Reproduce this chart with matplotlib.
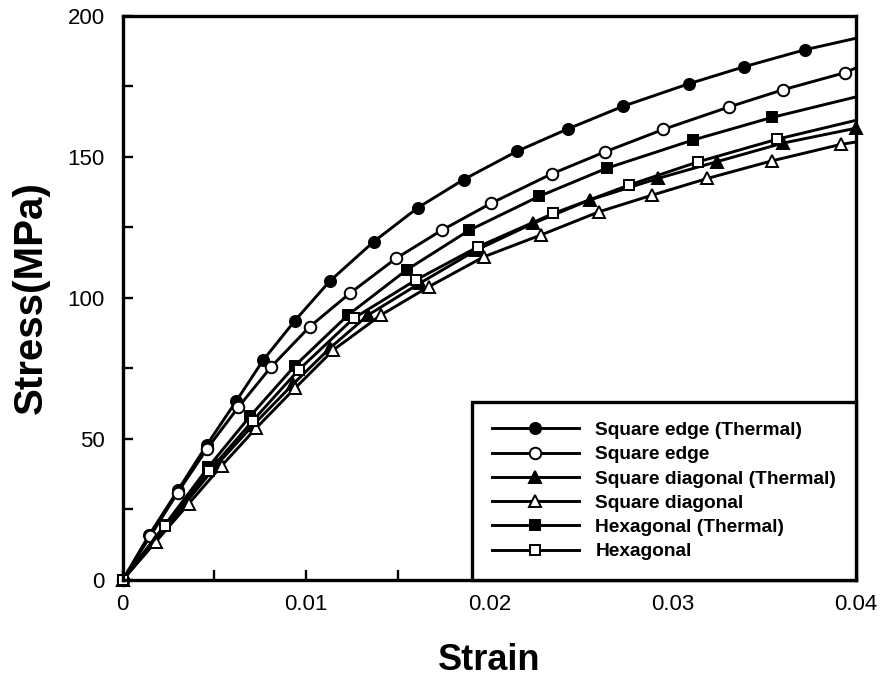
import numpy as np
import matplotlib
matplotlib.use('Agg')
import matplotlib.pyplot as plt
from matplotlib.ticker import MultipleLocator

plt.rcParams['font.family'] = ['Liberation Sans', 'DejaVu Sans']

# Square edge (Thermal) - filled circles
se_th_x = [0, 0.00145, 0.00303, 0.0046, 0.0062, 0.00767, 0.0094, 0.0113, 0.0137, 0.0161,
           0.0186, 0.0215, 0.0243, 0.0273, 0.0309, 0.0339, 0.0372, 0.04]
se_th_y = [0, 16, 32, 48, 63.5, 78, 92, 106, 120, 132, 142, 152, 160, 168, 176, 182, 188, 192.1]

# Square edge - open circles
se_x = [0, 0.0015, 0.003, 0.0046, 0.0063, 0.0081, 0.0102, 0.0124, 0.0149, 0.0174, 0.0201,
        0.0234, 0.0263, 0.0295, 0.0331, 0.036, 0.0394, 0.04]
se_y = [0, 15.5, 31, 46.5, 61.2, 75.6, 89.8, 101.7, 114, 124, 133.6, 144, 151.8, 159.8,
        167.8, 173.8, 179.9, 181.6]

# Square diagonal (Thermal) - filled triangles
sd_th_x = [0, 0.00176, 0.0034, 0.00513, 0.00713, 0.0093, 0.0113, 0.0134, 0.0162, 0.0193,
           0.0224, 0.0255, 0.0292, 0.0324, 0.036, 0.04]
sd_th_y = [0, 13.5, 27, 40.8, 55, 69.5, 82.2, 94, 105.2, 117, 126.5, 134.8, 142.4, 148.3,
           154.9, 160.2]

# Square diagonal - open triangles
sd_x = [0, 0.0018, 0.0036, 0.0054, 0.0073, 0.0094, 0.0115, 0.0141, 0.0167, 0.0197, 0.0228,
        0.026, 0.0289, 0.0319, 0.0354, 0.0392, 0.04]
sd_y = [0, 13.5, 27, 40.5, 54, 68, 81.6, 94, 104, 114.6, 122.3, 130.6, 136.5, 142.4, 148.6,
        154.5, 155.3]

# Hexagonal (Thermal) - filled squares
hx_th_x = [0, 0.0023, 0.00467, 0.00694, 0.0094, 0.0123, 0.0155, 0.0189, 0.0227, 0.0264,
           0.0311, 0.0354, 0.04]
hx_th_y = [0, 19.5, 40, 58, 76, 94, 110, 124, 136, 146, 156, 164, 171.3]

# Hexagonal - open squares
hx_x = [0, 0.0023, 0.0047, 0.0071, 0.0096, 0.0126, 0.016, 0.0194, 0.0235, 0.0276, 0.0314,
        0.0357, 0.04]
hx_y = [0, 19, 38.5, 56.5, 74.5, 92.8, 106.4, 118.2, 130, 140, 148.3, 156.3, 163]

labels = ['Square edge (Thermal)', 'Square edge', 'Square diagonal (Thermal)',
          'Square diagonal', 'Hexagonal (Thermal)', 'Hexagonal']

fig = plt.figure(figsize=(8.8, 6.8), dpi=100)
ax = fig.add_axes([0.1394, 0.1471, 0.8333, 0.8294])

series = [
    (se_th_x, se_th_y, 'o', 'black', 8.0, False),
    (se_x, se_y, 'o', 'white', 8.3, False),
    (sd_th_x, sd_th_y, '^', 'black', 8.5, True),
    (sd_x, sd_y, '^', 'white', 8.5, False),
    (hx_th_x, hx_th_y, 's', 'black', 7.2, False),
    (hx_x, hx_y, 's', 'white', 6.8, False),
]

for (x, y, m, fc, ms, last), lab in zip(series, labels):
    n = len(x)
    ax.plot(x, y, '-', color='black', lw=2.1, marker=m, markersize=ms,
            markerfacecolor=fc, markeredgecolor='black', markeredgewidth=1.4,
            markevery=(list(range(n)) if last else list(range(n - 1))),
            label=lab, clip_on=False)

ax.set_xlim(0, 0.04)
ax.set_ylim(0, 200)
ax.xaxis.set_minor_locator(MultipleLocator(0.005))
ax.yaxis.set_major_locator(MultipleLocator(50))
ax.yaxis.set_minor_locator(MultipleLocator(25))
ax.set_xticks([0, 0.01, 0.02, 0.03, 0.04])
ax.set_xticklabels(['0', '0.01', '0.02', '0.03', '0.04'])

ax.tick_params(which='both', direction='in', length=7, width=1.7, top=False, right=False,
               labelsize=16)
ax.tick_params(axis='x', pad=10)
ax.tick_params(axis='y', pad=13)
for sp in ax.spines.values():
    sp.set_linewidth(2.4)

ax.set_xlabel('Strain', fontsize=26, fontweight='bold', labelpad=20)
ax.set_ylabel('Stress(MPa)', fontsize=29, fontweight='bold', labelpad=13)

leg = ax.legend(loc='lower right', bbox_to_anchor=(1, 0), borderaxespad=0, numpoints=1,
                frameon=True, fancybox=False, edgecolor='black', framealpha=1,
                prop={'weight': 'bold', 'size': 13.75}, handlelength=4.6,
                handletextpad=0.84, labelspacing=0.36, borderpad=1.03)
leg.get_frame().set_linewidth(2.4)

fig.savefig('out.png', dpi=100)
